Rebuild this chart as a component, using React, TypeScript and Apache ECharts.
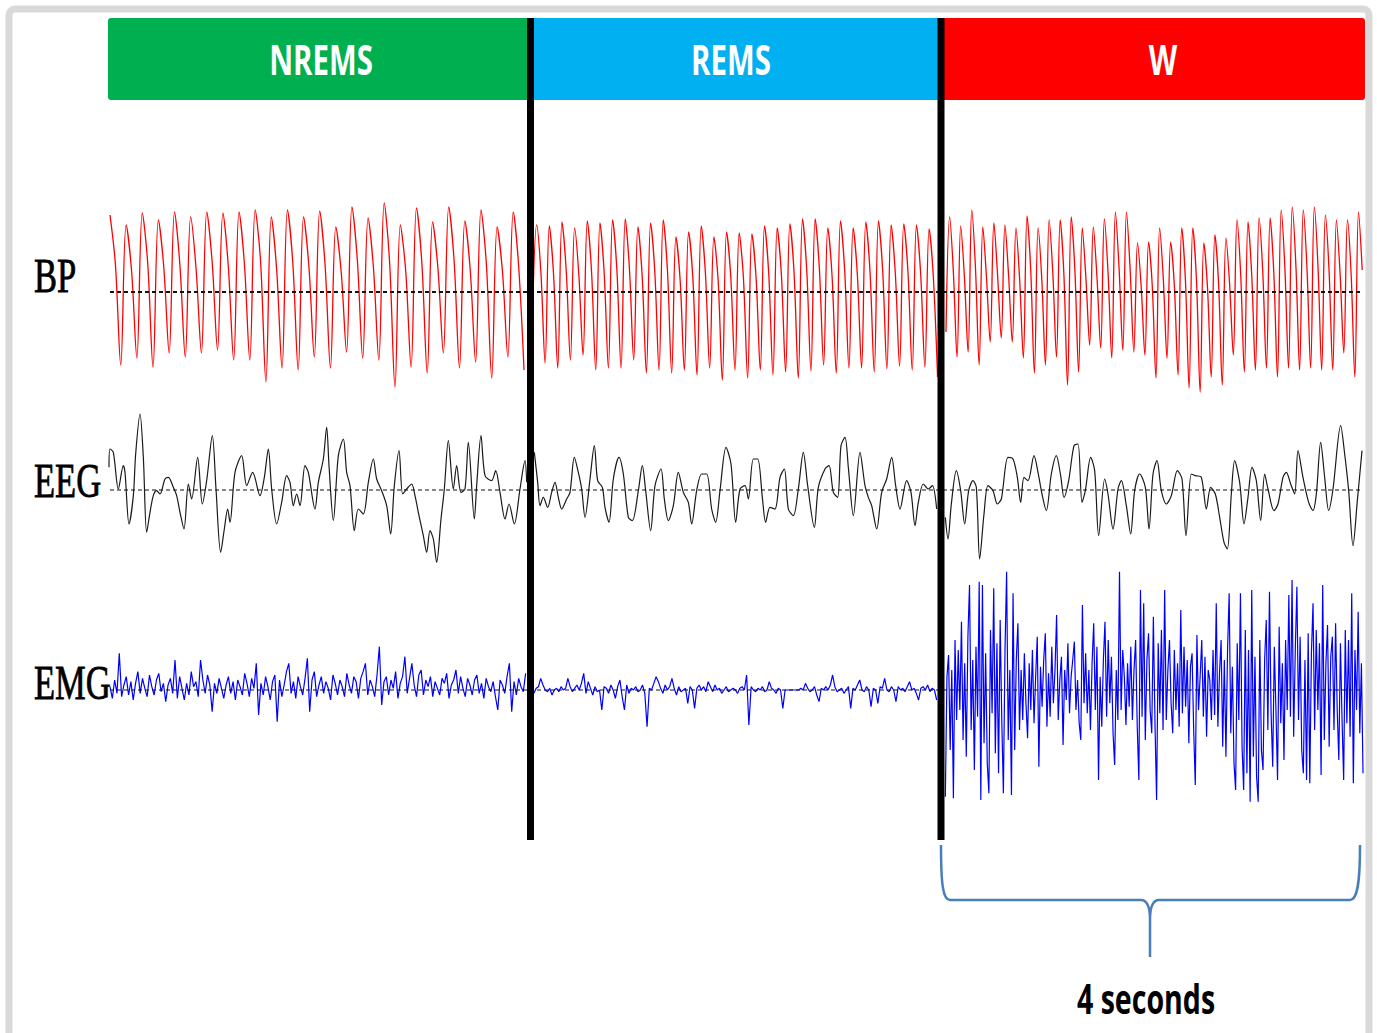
import React, { useEffect, useRef } from "react";
import * as echarts from "echarts";

// ---------- labels ----------
const STAGES = ["NREMS", "REMS", "W"];
const STAGE_COLORS = ["#00b050", "#00b0f0", "#ff0000"];
const CHANNELS = ["BP", "EEG", "EMG"];
const SCALE_LABEL = "4 seconds";

// ---------- time base (samples on shared axis, ~312.5 samples / s) ----------
const SEGMENT_OFFSET = [0, 1260, 2499];
const AXIS_MAX = 3816;
const BASELINE_RANGE = [15, 3771];
const BP_TIMING = [[15, 16.13], [22.3, 12.66], [24, 11.05]];
const EMG_TIMING = [[15, 6.966], [20, 6.788], [22, 4.838]];

// ---------- BP (peak, notch, trough per beat) ----------
const BP_NREMS = [77,28,-73, 67,22,-66, 79,30,-75, 72,25,-61, 80,27,-65, 75,24,-61, 80,30,-58, 79,26,-68, 80,28,-68, 82,31,-90, 75,22,-76, 82,29,-78, 75,25,-65, 81,27,-76, 65,20,-60, 85,32,-66, 74,24,-68, 89,30,-95, 67,21,-75, 84,29,-81, 70,23,-61, 85,31,-76, 71,22,-70, 82,28,-86, 65,20,-65, 80,26,-78];
const BP_REMS = [-30, 67,20,-71, 66,18,-76, 70,22,-68, 64,17,-63, 71,21,-78, 69,19,-76, 72,23,-76, 73,22,-68, 65,16,-81, 69,20,-78, 72,21,-81, 55,12,-78, 60,15,-83, 66,18,-76, 55,12,-88, 60,15,-78, 59,14,-86, 58,14,-78, 66,18,-83, 64,17,-80, 68,19,-86, 73,22,-79, 73,23,-73, 64,16,-81, 71,21,-76, 64,17,-76, 70,20,-80, 71,21,-77, 67,18,-74, 68,19,-78, 67,18,-75, 63,15,-85];
const BP_W = [-40, 75,20,-65, 66,15,-60, 82,24,-73, 65,14,-50, 69,17,-46, 67,16,-50, 64,12,-66, 76,22,-81, 64,13,-73, 72,19,-65, 72,18,-93, 75,21,-80, 64,13,-53, 65,14,-56, 73,19,-66, 80,23,-58, 80,22,-60, 49,5,-63, 50,6,-86, 64,13,-66, 50,6,-83, 64,12,-96, 64,12,-100, 49,4,-85, 57,9,-93, 54,8,-63, 72,18,-80, 70,17,-78, 74,20,-76, 74,19,-85, 82,24,-76, 85,26,-78, 82,24,-76, 85,25,-78, 77,21,-78, 72,18,-61, 72,17,-85, 80,22];

// ---------- EEG ([sample, value]) ----------
const EEG_NREMS = [[12,68],[15,123],[25,113],[40,3],[55,73],[60,53],[72,-102],[85,-17],[92,108],[105,228],[115,98],[125,-127],[135,-67],[145,-17],[155,-2],[165,-12],[180,33],[190,38],[205,8],[215,-17],[225,-67],[237,-117],[250,18],[260,-27],[278,98],[292,-42],[305,28],[322,163],[333,3],[347,-187],[358,-117],[368,-57],[375,-97],[390,53],[410,103],[425,13],[443,53],[465,-17],[478,38],[490,123],[500,3],[515,-102],[530,-37],[545,43],[555,23],[565,-47],[575,-12],[585,-47],[600,73],[610,53],[630,-57],[640,23],[655,93],[665,188],[672,73],[685,-92],[700,103],[715,153],[725,53],[735,13],[748,-122],[760,-57],[775,-72],[790,23],[805,93],[815,33],[830,-2],[845,-47],[857,-132],[868,13],[882,118],[893,-12],[905,3],[920,18],[930,-17],[942,-77],[955,-137],[965,-187],[975,-122],[985,-147],[995,-217],[1008,-87],[1018,3],[1030,148],[1045,3],[1055,73],[1068,-7],[1080,3],[1090,143],[1108,-87],[1115,13],[1128,163],[1140,43],[1160,28],[1172,58],[1185,-7],[1200,-87],[1212,-42],[1228,-102],[1245,3],[1260,88],[1265,23]];
const EEG_REMS = [[28,113],[38,23],[45,-47],[55,-22],[68,-52],[80,-7],[90,23],[100,-22],[110,-57],[125,-27],[135,-7],[148,98],[160,53],[170,3],[180,-82],[195,33],[208,133],[218,28],[232,8],[240,-52],[252,-97],[265,33],[282,98],[295,48],[310,-82],[322,-92],[340,-2],[352,73],[362,-2],[377,-122],[390,13],[408,63],[418,-27],[430,-92],[445,-47],[460,53],[475,-7],[490,-37],[500,-102],[515,-2],[530,48],[545,48],[560,-57],[572,-97],[585,-2],[603,128],[618,78],[632,-97],[645,3],[660,13],[670,-27],[685,93],[698,93],[712,-22],[722,-97],[735,-52],[750,-57],[765,38],[778,63],[790,-57],[805,-77],[820,3],[835,113],[848,13],[868,-112],[880,8],[900,63],[912,73],[925,-7],[938,-22],[948,133],[960,158],[970,68],[985,-77],[1005,113],[1020,13],[1030,-22],[1040,-47],[1055,-117],[1070,-7],[1085,33],[1100,98],[1112,13],[1125,-57],[1145,28],[1158,-7],[1170,-107],[1180,-37],[1195,18],[1210,3],[1222,13],[1235,-57]];
const EEG_W = [[22,-82],[30,-147],[40,-42],[55,58],[68,-2],[80,-102],[92,-2],[105,28],[115,8],[125,-207],[138,-72],[150,13],[165,-2],[178,-42],[190,-27],[210,98],[225,93],[238,38],[248,-37],[258,38],[270,28],[288,103],[300,53],[312,-12],[325,-62],[340,48],[355,103],[368,43],[378,-22],[392,28],[408,133],[420,138],[432,-37],[442,-2],[458,98],[470,58],[482,-137],[500,33],[510,-12],[525,-117],[540,3],[550,28],[565,-47],[578,-132],[590,-2],[605,48],[622,8],[633,-117],[645,48],[657,88],[670,-2],[685,-42],[700,-17],[718,58],[732,33],[744,-137],[760,48],[772,43],[790,38],[805,-57],[818,8],[832,-12],[845,-82],[858,-157],[868,-177],[880,-12],[890,88],[905,23],[918,-102],[930,-22],[942,68],[955,28],[968,-92],[980,48],[990,3],[1008,-62],[1020,-42],[1035,38],[1045,53],[1058,18],[1070,-12],[1080,118],[1095,38],[1112,-37],[1125,-62],[1135,-12],[1148,143],[1160,38],[1172,-62],[1185,3],[1208,193],[1220,108],[1232,-2],[1245,-167],[1258,-32],[1272,118]];

// ---------- EMG (uniform samples) ----------
const EMG_NREMS = [10,-25,30,-10,110,-20,15,40,-15,25,-30,20,55,-10,35,5,-20,45,10,-15,
30,50,-5,20,-35,15,35,-10,90,-25,40,5,-30,20,-15,55,10,25,-20,90,
30,-10,45,15,-65,20,-10,35,5,-25,15,40,-10,25,-30,30,10,-15,50,20,
-20,35,5,80,-75,20,-15,40,10,-30,25,45,-95,30,-20,15,55,80,-10,25,
-25,40,10,-15,35,95,-65,30,55,-20,15,40,-10,25,5,-30,45,20,-15,30,
10,-20,50,15,-10,40,25,-25,35,55,80,-15,30,10,-20,45,130,-45,25,40,
-15,30,5,55,-25,20,40,100,-10,35,80,15,-20,45,60,-15,30,10,40,-20,
25,5,-15,35,20,50,-25,15,30,60,-10,40,5,-20,35,15,-15,30,45,-10,
20,-25,35,10,-5,25,-20,-60,30,15,-10,40,80,-65,25,-15,35,10,-5,50];
const EMG_REMS = [0,-10,5,10,35,15,0,-5,5,-15,0,5,-5,10,0,5,35,10,-5,5,
15,0,20,50,-10,25,5,-15,10,-5,0,-60,10,5,-10,15,0,-25,10,30,
-20,-60,15,-10,5,0,10,-5,0,15,-10,-110,5,0,20,40,25,5,-10,15,
0,10,35,5,-15,10,-5,0,5,-40,10,0,-55,5,15,0,10,-5,25,10,
-5,15,0,5,-10,0,10,-5,0,5,0,-10,5,10,0,45,-105,10,0,-5,
5,0,10,-5,0,25,5,0,-10,5,0,-55,0,0,0,0,0,0,0,5,
0,20,5,-5,0,10,-15,-35,5,0,10,0,15,45,10,-5,0,5,-10,0,
10,-55,5,0,15,30,0,-5,10,0,-50,5,0,-40,10,5,35,0,-5,10,
0,-35,10,0,5,-5,10,25,0,5,-10,-30,5,10,0,15,-5,5,0,-30];
const EMG_W = [-320,40,105,-180,60,-325,150,-90,120,-60,205,-150,80,-200,160,315,-120,90,-240,130,
-80,325,-330,315,-160,110,-220,-310,180,-70,305,-190,140,-250,210,-90,-310,120,355,-150,
60,-315,290,-180,90,200,-120,60,-90,110,-40,-145,80,-60,120,-100,40,160,-230,70,
-50,90,170,-110,50,-80,130,-40,60,225,-90,30,100,-165,60,-30,140,-70,40,90,
145,-60,30,-100,-150,255,-40,110,-70,60,-120,80,200,-60,130,-270,40,-110,90,205,
-80,150,-40,100,-130,-225,60,-90,355,-60,120,40,-105,80,-50,130,-90,60,150,-110,
-270,300,-80,260,-150,90,170,-60,-130,220,-100,-330,140,-70,180,-120,300,-90,60,150,
-40,-130,120,-60,80,-110,240,-70,130,-50,90,-160,70,110,-120,-285,165,-60,40,150,
-80,100,-140,60,30,-90,120,-75,260,-110,50,150,-170,90,-200,120,290,-130,70,-220,
-300,140,-90,290,-170,-300,180,-250,120,-335,300,-200,100,-260,-335,150,-180,-240,90,210,
-120,295,-70,-230,130,-60,-270,190,-100,80,-210,150,-60,285,-80,330,-140,120,310,-90,
160,-180,-250,90,-270,170,-280,110,260,-120,180,-60,140,-255,315,-150,80,195,-170,100,
160,-120,200,-60,-210,140,-90,-270,180,-100,150,-140,290,-280,120,-60,235,-130,80,-250];

const BP_SEGMENTS = [BP_NREMS, BP_REMS, BP_W];
const EEG_SEGMENTS = [EEG_NREMS, EEG_REMS, EEG_W];
const EMG_SEGMENTS = [EMG_NREMS, EMG_REMS, EMG_W];

const BRACE_PATH =
  "M941,845 C941,885 943,900 950,900 L1141,900 C1148,900 1150,908 1150,920 L1150,957 M1150,920 C1150,908 1152,900 1159,900 L1350,900 C1357,900 1360,885 1360,845";

let braceRegistered = false;
function ensureBrace() {
  if (braceRegistered) return;
  echarts.graphic.registerShape("brace", echarts.graphic.extendPath(BRACE_PATH, {}));
  braceRegistered = true;
}

function uniformSeries(values: number[], seg: number, timing: number[]) {
  return values.map((v, i) => [SEGMENT_OFFSET[seg] + timing[0] + i * timing[1], v]);
}
function pairSeries(pairs: number[][], seg: number) {
  return pairs.map((p) => [SEGMENT_OFFSET[seg] + p[0], p[1]]);
}

export default function App() {
  const ref = useRef<HTMLDivElement>(null);
  useEffect(() => {
    if (!ref.current) return;
    ensureBrace();
    const chart = echarts.init(ref.current, undefined, { renderer: "svg" });

    const series: any[] = [];
    const colors = ["#ff0000", "#1a1a1a", "#0000ff"];
    for (let s = 0; s < 3; s++) {
      series.push({
        type: "line", xAxisIndex: 0, yAxisIndex: 0, symbol: "none", silent: true, z: 2,
        smooth: 0.35,
        data: uniformSeries(BP_SEGMENTS[s], s, BP_TIMING[s]),
        lineStyle: { color: colors[0], width: 1.3 },
      });
      series.push({
        type: "line", xAxisIndex: 1, yAxisIndex: 1, symbol: "none", silent: true, z: 2,
        smooth: 0.3,
        data: pairSeries(EEG_SEGMENTS[s], s),
        lineStyle: { color: colors[1], width: 1.2 },
      });
      series.push({
        type: "line", xAxisIndex: 2, yAxisIndex: 2, symbol: "none", silent: true, z: 2,
        data: uniformSeries(EMG_SEGMENTS[s], s, EMG_TIMING[s]),
        lineStyle: { color: colors[2], width: 1.2 },
      });
    }
    for (let g = 0; g < 3; g++) {
      series.push({
        type: "line", xAxisIndex: g, yAxisIndex: g, symbol: "none", silent: true, z: 3,
        data: [[BASELINE_RANGE[0], 0], [BASELINE_RANGE[1], 0]],
        lineStyle: { color: "#111", width: g === 0 ? 2 : 1.1, type: [4, 3] },
      });
    }

    const grids = [
      { left: 105, right: 0, top: 192, height: 210 },
      { left: 105, right: 0, top: 390, height: 200 },
      { left: 105, right: 0, top: 540, height: 300 },
    ];
    const yRanges = [[-110, 100], [-300, 300], [-450, 450]];

    const headerX = [[108, 422], [530, 411], [941, 424]];
    const headerCenters = [321, 731, 1163];
    const labelY = [276, 481, 683];

    const elements: any[] = [
      {
        type: "rect", z: 0,
        shape: { x: 9, y: 9, width: 1360, height: 1060, r: 6 },
        style: { fill: "none", stroke: "#d9d9d9", lineWidth: 7 },
      },
    ];
    STAGES.forEach((name, i) => {
      elements.push({
        type: "rect", z: 5,
        shape: { x: headerX[i][0], y: 18, width: headerX[i][1], height: 82, r: i === 0 ? [3, 0, 0, 3] : i === 2 ? [0, 3, 3, 0] : 0 },
        style: { fill: STAGE_COLORS[i] },
      });
      elements.push({
        type: "text", z: 6, x: headerCenters[i], y: 59, scaleX: 0.7,
        style: {
          text: name, fill: "#ffffff", font: "bold 42px 'Open Sans', sans-serif",
          textAlign: "center", textVerticalAlign: "middle",
        },
      });
    });
    [530.5, 941].forEach((x) => {
      elements.push({
        type: "rect", z: 10,
        shape: { x: x - 3.5, y: 18, width: 7, height: 822 },
        style: { fill: "#000000" },
      });
    });
    CHANNELS.forEach((name, i) => {
      elements.push({
        type: "text", z: 6, x: 34, y: labelY[i], scaleX: 0.72,
        style: {
          text: name, fill: "#000000", font: "48px 'Liberation Serif', serif",
          textAlign: "left", textVerticalAlign: "middle",
          stroke: "#000000", lineWidth: 0.8,
        },
      });
    });
    elements.push({
      type: "brace", z: 6, x: 0, y: 0,
      style: { fill: "none", stroke: "#4a7ebb", lineWidth: 2.5 },
    });
    elements.push({
      type: "text", z: 6, x: 1146, y: 998, scaleX: 0.68,
      style: {
        text: SCALE_LABEL, fill: "#000000", font: "bold 42px 'Open Sans', sans-serif",
        textAlign: "center", textVerticalAlign: "middle",
      },
    });

    chart.setOption({
      animation: false,
      backgroundColor: "#ffffff",
      grid: grids,
      xAxis: grids.map((_, i) => ({ type: "value", gridIndex: i, min: 0, max: AXIS_MAX, show: false })),
      yAxis: grids.map((_, i) => ({ type: "value", gridIndex: i, min: yRanges[i][0], max: yRanges[i][1], show: false })),
      series,
      graphic: { elements },
    });
    return () => chart.dispose();
  }, []);
  return (
    <div
      ref={ref}
      style={{ position: "absolute", left: 0, top: 0, width: 1377, height: 1033 }}
    />
  );
}
